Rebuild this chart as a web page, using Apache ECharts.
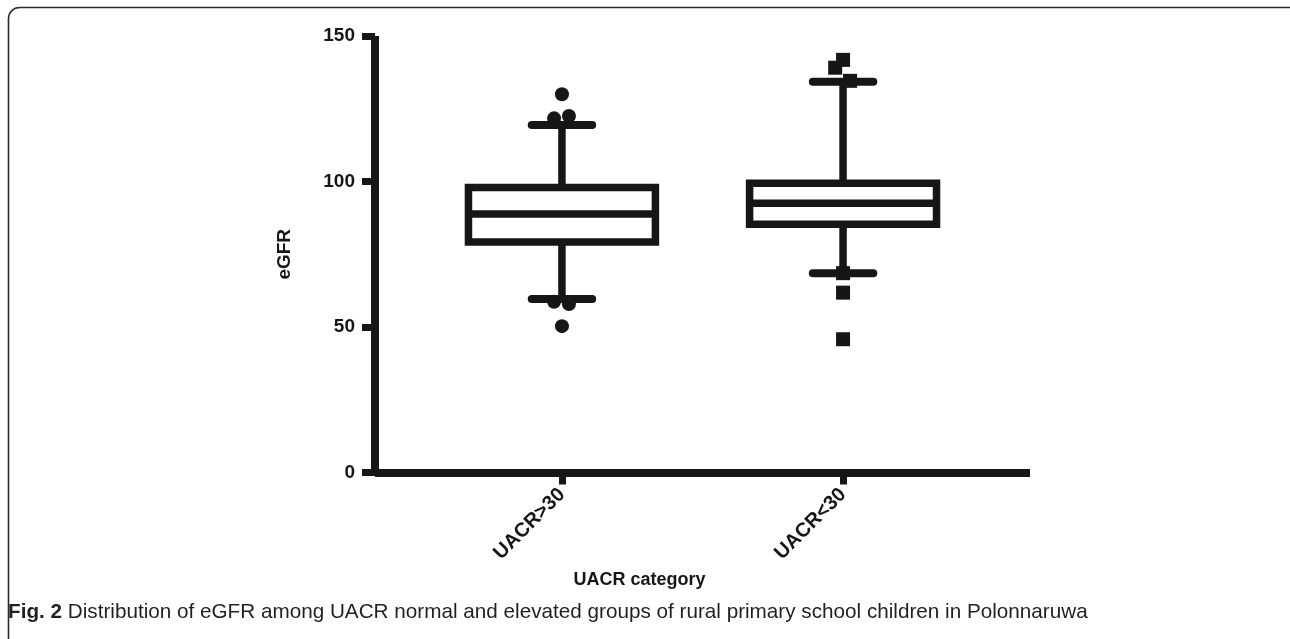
<!DOCTYPE html>
<html>
<head>
<meta charset="utf-8">
<script src="https://cdn.jsdelivr.net/npm/echarts@6/dist/echarts.min.js"></script>
<style>
  html, body { margin: 0; padding: 0; background: #fff; }
  #chart { width: 1290px; height: 639px; }
</style>
</head>
<body>
<div id="chart"></div>
<script>
var categories = ['UACR>30', 'UACR<30'];
var categoryPos = [1, 2];
var whiskerLow = [59.6, 68.5];
var q1 = [79.2, 85.3];
var median = [88.8, 92.5];
var q3 = [97.9, 99.4];
var whiskerHigh = [119.4, 134.3];
// outliers as [x position, eGFR]; x jittered a little like the original
var outliers1 = [[1, 130], [0.972, 121.7], [1.025, 122.5], [0.972, 58.7], [1.025, 57.9], [1, 50.3]];
var outliers2 = [[2, 141.8], [1.972, 139.1], [2.025, 134.6], [2, 68.5], [2, 61.8], [2, 45.8]];
var yTicks = [0, 50, 100, 150];

var ink = '#161616';
var fontFam = '"Liberation Sans", Arial, sans-serif';

var boxData = categoryPos.map(function (p, i) {
  return [p, whiskerLow[i], q1[i], median[i], q3[i], whiskerHigh[i]];
});

function renderBox(params, api) {
  var x = api.value(0);
  var top = api.coord([x, api.value(5)]);
  var boxTop = api.coord([x, api.value(4)]);
  var mid = api.coord([x, api.value(3)]);
  var boxBot = api.coord([x, api.value(2)]);
  var bot = api.coord([x, api.value(1)]);
  var boxW = api.size([0.665, 0])[0];
  var capW = api.size([0.215, 0])[0];
  var cx = top[0];
  var lineStyle = { stroke: ink, lineWidth: 7.5, fill: null };
  var capStyle = { stroke: ink, lineWidth: 8, fill: null, lineCap: 'round' };
  return {
    type: 'group',
    children: [
      { type: 'line', shape: { x1: cx, y1: top[1], x2: cx, y2: boxTop[1] }, style: lineStyle },
      { type: 'line', shape: { x1: cx, y1: boxBot[1], x2: cx, y2: bot[1] }, style: lineStyle },
      { type: 'line', shape: { x1: cx - capW / 2, y1: top[1], x2: cx + capW / 2, y2: top[1] }, style: capStyle },
      { type: 'line', shape: { x1: cx - capW / 2, y1: bot[1], x2: cx + capW / 2, y2: bot[1] }, style: capStyle },
      {
        type: 'rect',
        shape: { x: cx - boxW / 2, y: boxTop[1], width: boxW, height: boxBot[1] - boxTop[1] },
        style: { stroke: ink, lineWidth: 7.5, fill: '#fff' }
      },
      { type: 'line', shape: { x1: cx - boxW / 2, y1: mid[1], x2: cx + boxW / 2, y2: mid[1] }, style: lineStyle }
    ]
  };
}

var chart = echarts.init(document.getElementById('chart'), null, { renderer: 'canvas' });

var option = {
  animation: false,
  backgroundColor: '#fff',
  grid: {
    left: 375,
    right: 260,
    top: 36,
    bottom: 166.5,
    outerBoundsMode: 'none'
  },
  xAxis: {
    type: 'value',
    min: 0.335,
    max: 2.665,
    name: 'UACR category',
    nameLocation: 'middle',
    nameGap: 99,
    nameTextStyle: {
      fontFamily: fontFam,
      fontWeight: 'bold',
      fontSize: 18,
      color: ink,
      padding: [0, 126, 0, 0]
    },
    splitLine: { show: false },
    axisLine: { show: true, onZero: false, lineStyle: { color: ink, width: 8, cap: 'butt' } },
    axisTick: {
      show: true,
      customValues: categoryPos,
      length: 12,
      lineStyle: { color: ink, width: 7, cap: 'butt' }
    },
    axisLabel: {
      customValues: categoryPos,
      rotate: 45,
      margin: 19,
      fontFamily: fontFam,
      fontWeight: 'bold',
      fontSize: 20,
      color: ink,
      formatter: function (v) {
        var i = categoryPos.indexOf(v);
        return i >= 0 ? categories[i] : '';
      }
    }
  },
  yAxis: {
    type: 'value',
    min: yTicks[0],
    max: yTicks[yTicks.length - 1],
    interval: 50,
    name: 'eGFR',
    nameLocation: 'middle',
    nameGap: 81,
    nameTextStyle: {
      fontFamily: fontFam,
      fontWeight: 'bold',
      fontSize: 19,
      color: ink
    },
    splitLine: { show: false },
    axisLine: { show: true, lineStyle: { color: ink, width: 8, cap: 'butt' } },
    axisTick: { show: true, length: 13, lineStyle: { color: ink, width: 7, cap: 'butt' } },
    axisLabel: {
      margin: 20,
      fontFamily: fontFam,
      fontWeight: 'bold',
      fontSize: 19,
      color: ink
    }
  },
  series: [
    {
      type: 'custom',
      name: 'box',
      renderItem: renderBox,
      encode: { x: 0, y: [1, 2, 3, 4, 5] },
      data: boxData,
      z: 2
    },
    {
      type: 'scatter',
      name: 'UACR>30 outliers',
      symbol: 'circle',
      symbolSize: 14,
      itemStyle: { color: ink, opacity: 1 },
      data: outliers1,
      z: 3
    },
    {
      type: 'scatter',
      name: 'UACR<30 outliers',
      symbol: 'rect',
      symbolSize: 14,
      itemStyle: { color: ink, opacity: 1 },
      data: outliers2,
      z: 3
    }
  ],
  graphic: [
    {
      type: 'rect',
      silent: true,
      shape: { x: 8.5, y: 7.5, width: 1320, height: 700, r: 11 },
      style: { fill: null, stroke: '#2a2a2a', lineWidth: 1.6 }
    },
    {
      type: 'text',
      left: 8,
      top: 602,
      style: {
        text: '{b|Fig. 2} Distribution of eGFR among UACR normal and elevated groups of rural primary school children in Polonnaruwa',
        fontFamily: fontFam,
        fontSize: 20.7,
        fill: '#231f20',
        rich: {
          b: { fontFamily: fontFam, fontSize: 20.7, fontWeight: 'bold', fill: '#231f20' }
        }
      }
    }
  ]
};

chart.setOption(option);
window.addEventListener('resize', chart.resize);
</script>
</body>
</html>
